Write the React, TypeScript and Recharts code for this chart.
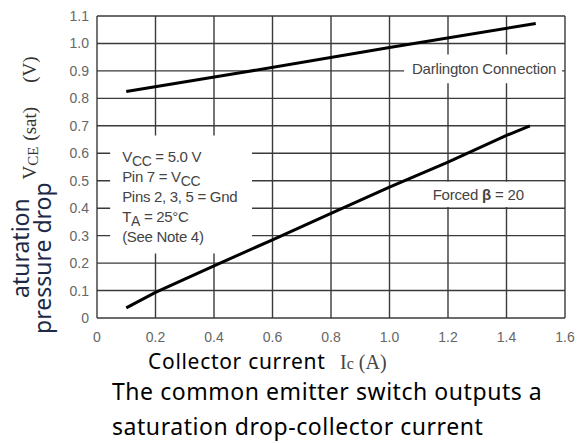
import { LineChart, Line, XAxis, YAxis, CartesianGrid, ReferenceArea } from 'recharts';

const currentTicks = [0, 0.2, 0.4, 0.6, 0.8, 1.0, 1.2, 1.4, 1.6];
const dropTicks = [0, 0.1, 0.2, 0.3, 0.4, 0.5, 0.6, 0.7, 0.8, 0.9, 1.0, 1.1];

// Darlington connection curve
const darlingtonIc = [0.1, 0.5, 1.0, 1.5];
const darlingtonVce = [0.825, 0.895, 0.985, 1.073];

// Forced beta = 20 curve
const forcedIc = [0.1, 0.2, 0.4, 0.6, 0.8, 1.0, 1.2, 1.4, 1.48];
const forcedVce = [0.037, 0.093, 0.19, 0.285, 0.381, 0.477, 0.568, 0.665, 0.7];

const darlingtonData = darlingtonIc.map((ic, i) => ({ ic, vce: darlingtonVce[i] }));
const forcedData = forcedIc.map((ic, i) => ({ ic, vce: forcedVce[i] }));

const sans = '"Liberation Sans", Arial, sans-serif';
const cjk = '"Noto Sans", "Noto Sans CJK SC", sans-serif';
const serif = '"Liberation Serif", "DejaVu Serif", serif';

const fmt = (v: number) => (v === 0 ? '0' : v.toFixed(1));

const ConditionsNote = (props: any) => {
  const vb = props.viewBox;
  if (!vb) return null;
  const x = vb.x + 12;
  const y0 = vb.y + 27;
  return (
    <text x={x} y={y0} fontFamily={sans} fontSize={15} fill="#444" letterSpacing={-0.3}>
      <tspan x={x} y={y0}>V<tspan dy={4} fontSize={14}>CC</tspan><tspan dy={-4}> = 5.0 V</tspan></tspan>
      <tspan x={x} y={y0 + 20}>Pin 7 = V<tspan dy={4} fontSize={14}>CC</tspan></tspan>
      <tspan x={x} y={y0 + 40}>Pins 2, 3, 5 = Gnd</tspan>
      <tspan x={x} y={y0 + 60}>T<tspan dy={4} fontSize={14}>A</tspan><tspan dy={-4}> = 25°C</tspan></tspan>
      <tspan x={x} y={y0 + 80}>(See Note 4)</tspan>
    </text>
  );
};

const boxText = (txt: React.ReactNode) => (props: any) => {
  const vb = props.viewBox;
  if (!vb) return null;
  return (
    <text
      x={vb.x + vb.width / 2 + 1}
      y={vb.y + vb.height / 2}
      textAnchor="middle"
      dominantBaseline="central"
      fontFamily={sans}
      fontSize={15}
      letterSpacing={-0.2}
      fill="#444"
    >
      {txt}
    </text>
  );
};

export default function App() {
  return (
    <div style={{ position: 'absolute', left: 0, top: 0, width: 581, height: 443, background: '#fff' }}>
      <LineChart
        width={581}
        height={443}
        margin={{ top: 16, right: 16, bottom: 95, left: 0 }}
      >
        <CartesianGrid stroke="#3a3a3a" strokeWidth={1.4} horizontal vertical />
        <XAxis
          type="number"
          dataKey="ic"
          domain={[0, 1.6]}
          ticks={currentTicks}
          tickFormatter={fmt}
          axisLine={false}
          tickLine={false}
          tickMargin={8}
          height={30}
          tick={{ fill: '#666', fontSize: 14, fontFamily: sans }}
          allowDataOverflow
        />
        <YAxis
          type="number"
          domain={[0, 1.1]}
          ticks={dropTicks}
          tickFormatter={fmt}
          axisLine={false}
          tickLine={false}
          width={97}
          tick={{ fill: '#666', fontSize: 14, fontFamily: sans }}
          allowDataOverflow
        />
        <ReferenceArea
          x1={0.045}
          x2={0.53}
          y1={0.235}
          y2={0.665}
          fill="#fff"
          fillOpacity={1}
          stroke="none"
          label={ConditionsNote}
        />
        <ReferenceArea
          x1={1.05}
          x2={1.59}
          y1={0.855}
          y2={0.96}
          fill="#fff"
          fillOpacity={1}
          stroke="none"
          label={boxText('Darlington Connection')}
        />
        <ReferenceArea
          x1={1.006}
          x2={1.594}
          y1={0.404}
          y2={0.496}
          fill="#fff"
          fillOpacity={1}
          stroke="none"
          label={boxText(<>Forced <tspan fontWeight="bold">β</tspan> = 20</>)}
        />
        <Line
          data={darlingtonData}
          dataKey="vce"
          type="linear"
          stroke="#000"
          strokeWidth={3}
          dot={false}
          activeDot={false}
          isAnimationActive={false}
        />
        <Line
          data={forcedData}
          dataKey="vce"
          type="linear"
          stroke="#000"
          strokeWidth={3}
          dot={false}
          activeDot={false}
          isAnimationActive={false}
        />
      </LineChart>
      <svg
        width={581}
        height={443}
        style={{ position: 'absolute', left: 0, top: 0, pointerEvents: 'none' }}
      >
        <text transform="translate(36,118) rotate(-90)" textAnchor="middle" fontFamily={serif} fontSize={19} fill="#333">
          V<tspan fontSize={15} dy={2}>CE</tspan>
          <tspan dy={-2} dx={6}>(sat)</tspan>
          <tspan dx={24}>(V)</tspan>
        </text>
        <text transform="translate(29,298) rotate(-90)" fontFamily={cjk} fontSize={23} fill="#1c2a48">
          aturation
        </text>
        <text transform="translate(51,334) rotate(-90)" fontFamily={cjk} fontSize={23} fill="#1c2a48">
          pressure drop
        </text>
        <text x={148} y={369} fontFamily={cjk} fontSize={21} letterSpacing={0.7} fill="#000">
          Collector current
        </text>
        <text x={340} y={369} fontFamily={serif} fontSize={20} fill="#444">
          I<tspan fontSize={16}>c</tspan> (A)
        </text>
        <text x={112} y={400} fontFamily={cjk} fontSize={23} letterSpacing={0.55} fill="#000">
          The common emitter switch outputs a
        </text>
        <text x={112} y={435} fontFamily={cjk} fontSize={23} letterSpacing={0.55} fill="#000">
          saturation drop-collector current
        </text>
      </svg>
    </div>
  );
}
